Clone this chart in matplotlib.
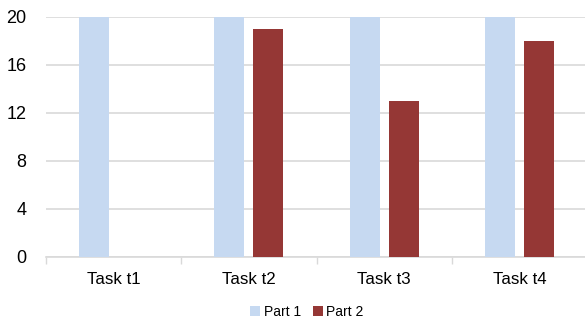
import matplotlib
matplotlib.use("Agg")
import matplotlib.pyplot as plt
import numpy as np

categories = ["Task t1", "Task t2", "Task t3", "Task t4"]
part1 = [20, 20, 20, 20]
part2 = [0, 19, 13, 18]
yticks = [0, 4, 8, 12, 16, 20]

plt.rcParams['font.family'] = ['Liberation Sans', 'DejaVu Sans']

fig = plt.figure(figsize=(5.85, 3.2), dpi=100)
ax = fig.add_axes([0.0786, 0.197, 0.925, 0.75])

x = np.arange(len(categories))
w = 0.222
off = 0.144
ax.bar(x - off, part1, w, color="#C6D9F1", label="Part 1", zorder=3)
ax.bar(x + off, part2, w, color="#953735", label="Part 2", zorder=3)

ax.set_xlim(-0.5, len(categories) - 0.5)
ax.set_ylim(0, 20)
ax.set_yticks(yticks)
ax.set_yticklabels([str(v) for v in yticks], fontsize=13)
ax.tick_params(axis='y', length=0, pad=14)
ax.yaxis.grid(True, color="#D9D9D9", linewidth=1.2, zorder=0)
ax.set_axisbelow(True)

ax.set_xticks(x)
ax.set_xticklabels(categories, fontsize=12.2)
ax.tick_params(axis='x', which='major', length=0, pad=11)
ax.set_xticks(np.arange(-0.5, len(categories)), minor=True)
ax.tick_params(axis='x', which='minor', length=5, color="#D9D9D9", width=1)

for s in ["top", "right", "left"]:
    ax.spines[s].set_visible(False)
ax.spines["bottom"].set_color("#D9D9D9")
ax.spines["bottom"].set_linewidth(1.2)

fig.legend(loc="lower center", bbox_to_anchor=(0.525, -0.035), ncol=2, frameon=False,
           fontsize=10, handlelength=0.7, handleheight=0.7, handletextpad=0.25,
           columnspacing=0.9)

fig.savefig("out.png", dpi=100)
